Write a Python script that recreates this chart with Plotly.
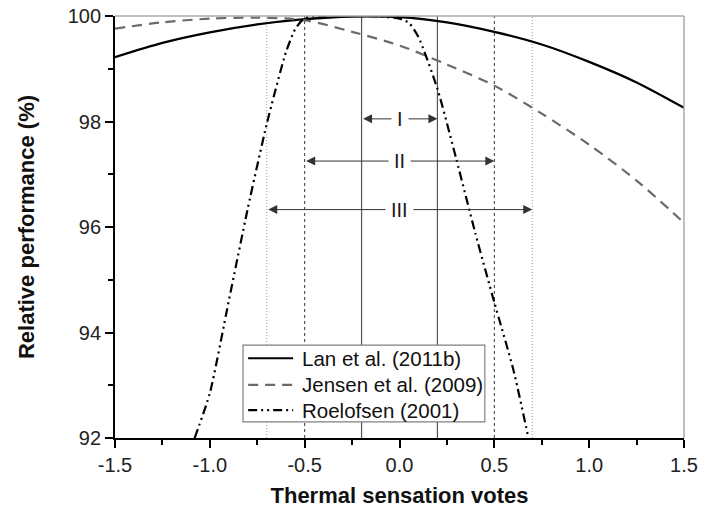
import plotly.graph_objects as go

# thermal sensation votes sampled along the curves
tsv = [-1.5, -1.25, -1.0, -0.75, -0.5, -0.25, 0.0, 0.25, 0.5, 0.75, 1.0, 1.25, 1.5]
lan_2011b = [99.22, 99.49, 99.69, 99.84, 99.94, 99.99, 99.98, 99.88, 99.70, 99.46, 99.13, 98.74, 98.26]
jensen_2009 = [99.76, 99.88, 99.95, 99.97, 99.92, 99.70, 99.44, 99.08, 98.68, 98.15, 97.56, 96.88, 96.08]

roelofsen_tsv = [-1.08, -1.0, -0.9, -0.8, -0.7, -0.6, -0.55, -0.5, -0.4, -0.3, -0.2, -0.1, 0.0,
                 0.05, 0.1, 0.2, 0.3, 0.4, 0.5, 0.6, 0.68]
roelofsen_2001 = [92.0, 92.85, 94.6, 96.35, 97.95, 99.3, 99.75, 99.96, 100.0, 100.0, 100.0, 99.99, 99.95,
                  99.87, 99.6, 98.62, 97.28, 95.88, 94.57, 93.3, 92.0]

series_names = ["Lan et al. (2011b)", "Jensen et al. (2009)", "Roelofsen (2001)"]

# comfort ranges I, II, III (half widths) and the level of their arrows
range_labels = ["I", "II", "III"]
range_half = [0.2, 0.5, 0.7]
range_level = [98.05, 97.25, 96.33]

x_ticks = [-1.5, -1.0, -0.5, 0.0, 0.5, 1.0, 1.5]
x_ticktext = ["-1.5", "-1.0", "-0.5", "0.0", "0.5", "1.0", "1.5"]
y_ticks = [92, 94, 96, 98, 100]

FONT = "Arial, Liberation Sans, sans-serif"
line_styles = [dict(color="black", width=2.2, dash="solid"),
               dict(color="#6a6a6a", width=2.2, dash="10px,7px"),
               dict(color="black", width=2.2, dash="9px,4px,2px,4px,2px,4px")]

fig = go.Figure()

xs = [tsv, tsv, roelofsen_tsv]
ys = [lan_2011b, jensen_2009, roelofsen_2001]
smooth = [0.8, 0.8, 0.6]
for x, y, name, st, sm in zip(xs, ys, series_names, line_styles, smooth):
    fig.add_trace(go.Scatter(x=x, y=y, mode="lines", name=name, showlegend=False,
                             line=dict(st, shape="spline", smoothing=sm)))

# boundary lines of the comfort ranges
styles = [dict(color="#555555", width=1.2, dash="solid"),
          dict(color="#333333", width=1, dash="3px,3px"),
          dict(color="#9a9a9a", width=1, dash="1px,2px")]
for half, st in zip(range_half, styles):
    for sign in (-1, 1):
        fig.add_shape(type="line", xref="x", yref="paper", x0=sign * half, x1=sign * half,
                      y0=0, y1=1, line=st, layer="below")

# double-headed arrows with roman labels
for lab, half, lev in zip(range_labels, range_half, range_level):
    fig.add_annotation(x=half, y=lev, ax=-half, ay=lev, xref="x", yref="y", axref="x", ayref="y",
                       text="", showarrow=True, arrowside="end+start", arrowhead=2, startarrowhead=2,
                       arrowsize=1.8, startarrowsize=1.8, arrowwidth=1, arrowcolor="#333333",
                       standoff=0, startstandoff=0)
    fig.add_annotation(x=0, y=lev, xref="x", yref="y", text=lab, showarrow=False,
                       bgcolor="white", borderpad=5,
                       font=dict(family=FONT, size=20, color="#1a1a1a"))

# light frame on top and right
fig.add_shape(type="line", xref="paper", yref="paper", x0=0, x1=1, y0=1, y1=1,
              line=dict(color="#aaaaaa", width=1.5))
fig.add_shape(type="line", xref="paper", yref="paper", x0=1, x1=1, y0=0, y1=1,
              line=dict(color="#aaaaaa", width=1.5))

# legend box drawn by hand so that its rows stay as tight as in the original
fig.add_shape(type="rect", xref="paper", yref="paper", x0=0.225, x1=0.650, y0=0.038, y1=0.220,
              line=dict(color="#808080", width=1.2), fillcolor="white")
row_y = [0.189, 0.126, 0.066]
for name, st, ry in zip(series_names, line_styles, row_y):
    fig.add_shape(type="line", xref="paper", yref="paper", x0=0.234, x1=0.313, y0=ry, y1=ry,
                  line=st)
    fig.add_annotation(x=0.325, y=ry, xref="paper", yref="paper", text=name, showarrow=False,
                       xanchor="left", yanchor="middle",
                       font=dict(family=FONT, size=20.5, color="#111111"))

fig.update_xaxes(range=[-1.5, 1.5], tickvals=x_ticks, ticktext=x_ticktext,
                 showgrid=False, zeroline=False, showline=True, linecolor="black", linewidth=2,
                 ticks="outside", ticklen=8, tickwidth=1.5, tickcolor="black",
                 minor=dict(ticks="outside", ticklen=5, tickwidth=1.5, tickcolor="black", dtick=0.25),
                 tickfont=dict(family=FONT, size=20, color="#222222"),
                 title=dict(text="<b>Thermal sensation votes</b>", standoff=35,
                            font=dict(family=FONT, size=22, color="#111111")),
                 ticklabeloverflow="allow", automargin=False)
fig.update_yaxes(range=[92, 100], tickvals=y_ticks,
                 showgrid=False, zeroline=False, showline=True, linecolor="black", linewidth=1.8,
                 ticks="outside", ticklen=8, tickwidth=1.5, tickcolor="black",
                 minor=dict(ticks="outside", ticklen=5, tickwidth=1.5, tickcolor="black", dtick=1),
                 tickfont=dict(family=FONT, size=20, color="#222222"),
                 title=dict(text="<b>Relative performance (%)</b>", standoff=27,
                            font=dict(family=FONT, size=22, color="#111111")),
                 ticklabeloverflow="allow", automargin=False)

fig.update_layout(
    width=715, height=508,
    margin=dict(l=115, r=31, t=16, b=70),
    paper_bgcolor="white", plot_bgcolor="white",
    font=dict(family=FONT, color="#111111"),
    showlegend=False,
)

# drop the default page margin so the figure sits in the window corner
fig.write_html("out.html", config={"displayModeBar": False},
               post_script="document.body.style.margin='0';")
